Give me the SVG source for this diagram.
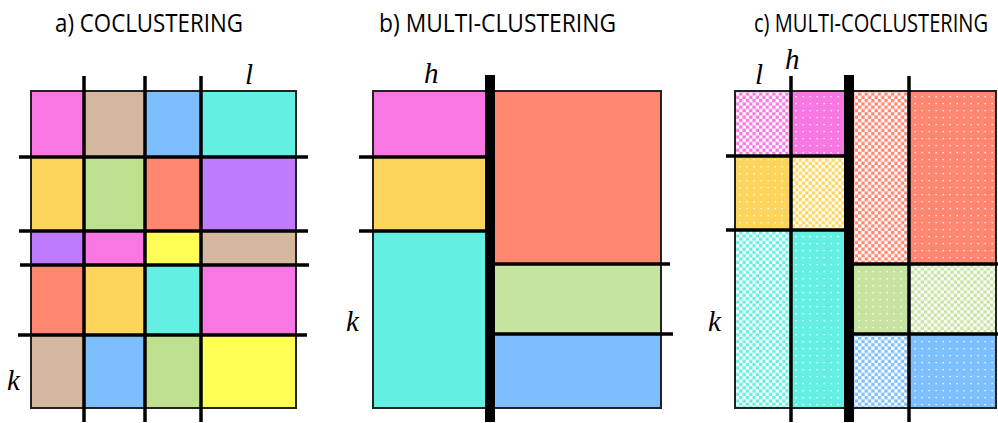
<svg xmlns="http://www.w3.org/2000/svg" width="998" height="423" viewBox="0 0 998 423">
<style>
.title{font-family:"Open Sans","Liberation Sans",sans-serif;font-size:26px;fill:#000}
.var{font-family:"Liberation Serif","DejaVu Serif",serif;font-style:italic;font-size:29px;fill:#000}
.frame{fill:none;stroke:#222;stroke-width:2}
.thin{stroke:#000;stroke-width:3.5;fill:none}
.thick{stroke:#000;stroke-width:10;fill:none}
.pk{fill:#F977E2}.tn{fill:#D3B89F}.bl{fill:#7DBEFD}.cy{fill:#63EFE2}.yo{fill:#FDD55D}.gr{fill:#BEE18F}.sa{fill:#FF8670}.pu{fill:#BF7BFE}.ye{fill:#FFFE55}.lg{fill:#C6E4A0}
</style>
<defs>
<pattern id="ckPk" width="6.6" height="6.6" patternUnits="userSpaceOnUse"><rect width="6.6" height="6.6" fill="#fff"/><rect width="3.3" height="3.3" fill="#F977E2"/><rect x="3.3" y="3.3" width="3.3" height="3.3" fill="#F977E2"/></pattern>
<pattern id="ckYo" width="6.6" height="6.6" patternUnits="userSpaceOnUse"><rect width="6.6" height="6.6" fill="#fff"/><rect width="3.3" height="3.3" fill="#FDD55D"/><rect x="3.3" y="3.3" width="3.3" height="3.3" fill="#FDD55D"/></pattern>
<pattern id="ckCy" width="6.6" height="6.6" patternUnits="userSpaceOnUse"><rect width="6.6" height="6.6" fill="#fff"/><rect width="3.3" height="3.3" fill="#63EFE2"/><rect x="3.3" y="3.3" width="3.3" height="3.3" fill="#63EFE2"/></pattern>
<pattern id="ckSa" width="6.6" height="6.6" patternUnits="userSpaceOnUse"><rect width="6.6" height="6.6" fill="#fff"/><rect width="3.3" height="3.3" fill="#FF8670"/><rect x="3.3" y="3.3" width="3.3" height="3.3" fill="#FF8670"/></pattern>
<pattern id="ckLg" width="6.6" height="6.6" patternUnits="userSpaceOnUse"><rect width="6.6" height="6.6" fill="#fff"/><rect width="3.3" height="3.3" fill="#C6E4A0"/><rect x="3.3" y="3.3" width="3.3" height="3.3" fill="#C6E4A0"/></pattern>
<pattern id="ckBl" width="6.6" height="6.6" patternUnits="userSpaceOnUse"><rect width="6.6" height="6.6" fill="#fff"/><rect width="3.3" height="3.3" fill="#7DBEFD"/><rect x="3.3" y="3.3" width="3.3" height="3.3" fill="#7DBEFD"/></pattern>
<pattern id="dtPk" width="7" height="7" patternUnits="userSpaceOnUse"><rect width="7" height="7" fill="#F977E2"/><rect x="4.5" y="5" width="1.3" height="1.3" fill="#fff"/></pattern>
<pattern id="dtYo" width="7" height="7" patternUnits="userSpaceOnUse"><rect width="7" height="7" fill="#FDD55D"/><rect x="4.5" y="5" width="1.3" height="1.3" fill="#fff"/></pattern>
<pattern id="dtCy" width="7" height="7" patternUnits="userSpaceOnUse"><rect width="7" height="7" fill="#63EFE2"/><rect x="4.5" y="5" width="1.3" height="1.3" fill="#fff"/></pattern>
<pattern id="dtSa" width="7" height="7" patternUnits="userSpaceOnUse"><rect width="7" height="7" fill="#FF8670"/><rect x="4.5" y="5" width="1.3" height="1.3" fill="#fff"/></pattern>
<pattern id="dtLg" width="7" height="7" patternUnits="userSpaceOnUse"><rect width="7" height="7" fill="#C6E4A0"/><rect x="4.5" y="5" width="1.3" height="1.3" fill="#fff"/></pattern>
<pattern id="dtBl" width="7" height="7" patternUnits="userSpaceOnUse"><rect width="7" height="7" fill="#7DBEFD"/><rect x="4.5" y="5" width="1.3" height="1.3" fill="#fff"/></pattern>
</defs>
<rect width="998" height="423" fill="#fff"/>

<g id="titles">
<text class="title" x="55" y="32" textLength="188" lengthAdjust="spacingAndGlyphs">a) COCLUSTERING</text>
<text class="title" x="379" y="32" textLength="237" lengthAdjust="spacingAndGlyphs">b) MULTI-CLUSTERING</text>
<text class="title" x="754" y="32" textLength="234" lengthAdjust="spacingAndGlyphs">c) MULTI-COCLUSTERING</text>
</g>

<g id="panel-a">
<rect class="pk" x="31" y="91" width="53" height="66"/>
<rect class="tn" x="84" y="91" width="61" height="66"/>
<rect class="bl" x="145" y="91" width="56" height="66"/>
<rect class="cy" x="201" y="91" width="95" height="66"/>
<rect class="yo" x="31" y="157" width="53" height="74"/>
<rect class="gr" x="84" y="157" width="61" height="74"/>
<rect class="sa" x="145" y="157" width="56" height="74"/>
<rect class="pu" x="201" y="157" width="95" height="74"/>
<rect class="pu" x="31" y="231" width="53" height="34"/>
<rect class="pk" x="84" y="231" width="61" height="34"/>
<rect class="ye" x="145" y="231" width="56" height="34"/>
<rect class="tn" x="201" y="231" width="95" height="34"/>
<rect class="sa" x="31" y="265" width="53" height="70"/>
<rect class="yo" x="84" y="265" width="61" height="70"/>
<rect class="cy" x="145" y="265" width="56" height="70"/>
<rect class="pk" x="201" y="265" width="95" height="70"/>
<rect class="tn" x="31" y="335" width="53" height="73"/>
<rect class="bl" x="84" y="335" width="61" height="73"/>
<rect class="gr" x="145" y="335" width="56" height="73"/>
<rect class="ye" x="201" y="335" width="95" height="73"/>
<rect class="frame" x="31" y="91" width="265" height="317"/>
<text class="var" x="245" y="84">l</text>
<text class="var" x="7" y="390">k</text>
</g>

<g id="panel-b">
<rect class="pk" x="373" y="91" width="117" height="66"/>
<rect class="yo" x="373" y="157" width="117" height="74"/>
<rect class="cy" x="373" y="231" width="117" height="177"/>
<rect class="sa" x="490" y="91" width="171" height="173"/>
<rect class="lg" x="490" y="264" width="171" height="70"/>
<rect class="bl" x="490" y="334" width="171" height="74"/>
<rect class="frame" x="373" y="91" width="288" height="317"/>
<text class="var" x="424" y="83">h</text>
<text class="var" x="346" y="331">k</text>
</g>

<g id="panel-c">
<rect fill="url(#ckPk)" x="735" y="91" width="56" height="66"/>
<rect fill="url(#dtPk)" x="791" y="91" width="58" height="66"/>
<rect fill="url(#dtYo)" x="735" y="157" width="56" height="74"/>
<rect fill="url(#ckYo)" x="791" y="157" width="58" height="74"/>
<rect fill="url(#ckCy)" x="735" y="231" width="56" height="177"/>
<rect fill="url(#dtCy)" x="791" y="231" width="58" height="177"/>
<rect fill="url(#ckSa)" x="849" y="91" width="60" height="173"/>
<rect fill="url(#dtSa)" x="909" y="91" width="87" height="173"/>
<rect fill="url(#dtLg)" x="849" y="264" width="60" height="70"/>
<rect fill="url(#ckLg)" x="909" y="264" width="87" height="70"/>
<rect fill="url(#ckBl)" x="849" y="334" width="60" height="74"/>
<rect fill="url(#dtBl)" x="909" y="334" width="87" height="74"/>
<rect class="frame" x="735" y="91" width="261" height="317"/>
<text class="var" x="755" y="84">l</text>
<text class="var" x="785" y="69">h</text>
<text class="var" x="708" y="331">k</text>
</g>

<g id="connectors">
<line class="thin" x1="84" y1="76" x2="84" y2="422"/>
<line class="thin" x1="145" y1="76" x2="145" y2="422"/>
<line class="thin" x1="201" y1="76" x2="201" y2="422"/>
<line class="thin" x1="19" y1="157" x2="308" y2="157"/>
<line class="thin" x1="19" y1="231" x2="308" y2="231"/>
<line class="thin" x1="20" y1="265" x2="309" y2="265"/>
<line class="thin" x1="18" y1="335" x2="307" y2="335"/>

<line class="thick" x1="490" y1="75" x2="490" y2="422"/>
<line class="thin" x1="359" y1="157" x2="490" y2="157"/>
<line class="thin" x1="359" y1="231" x2="490" y2="231"/>
<line class="thin" x1="490" y1="264" x2="670" y2="264"/>
<line class="thin" x1="490" y1="334" x2="673" y2="334"/>

<line class="thin" x1="791" y1="76" x2="791" y2="422"/>
<line class="thick" x1="849" y1="75" x2="849" y2="422"/>
<line class="thin" x1="909" y1="76" x2="909" y2="422"/>
<line class="thin" x1="726" y1="156" x2="849" y2="156"/>
<line class="thin" x1="726" y1="230" x2="849" y2="230"/>
<line class="thin" x1="849" y1="264" x2="998" y2="264"/>
<line class="thin" x1="849" y1="334" x2="998" y2="334"/>
</g>
</svg>
